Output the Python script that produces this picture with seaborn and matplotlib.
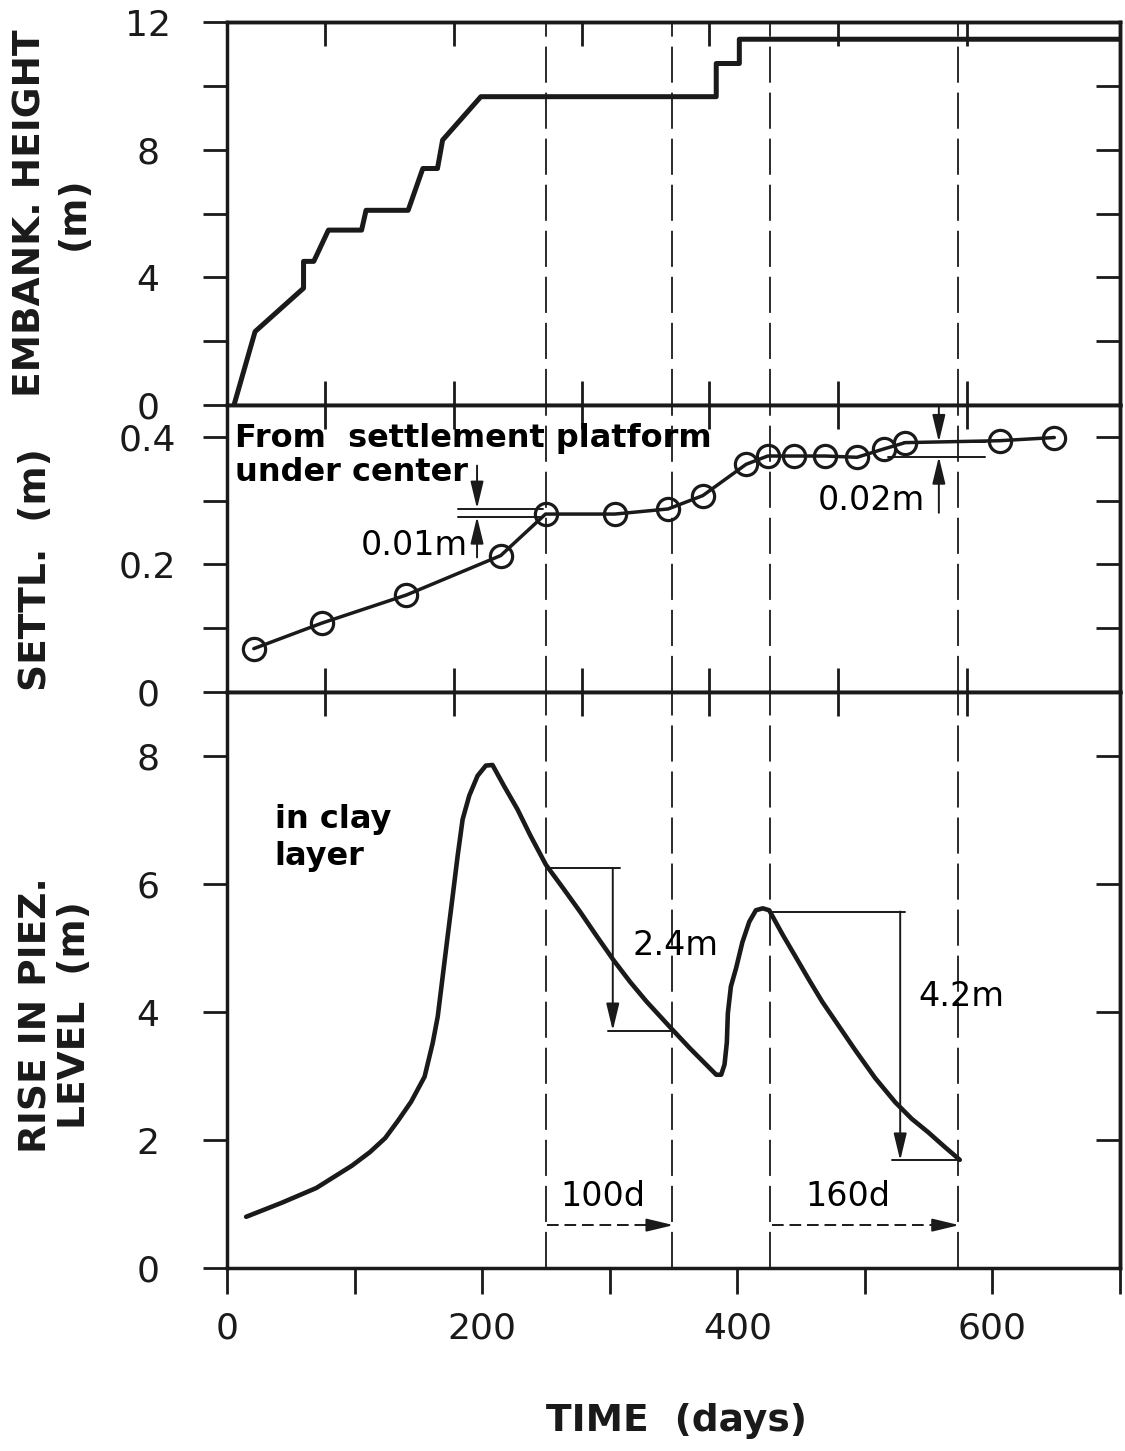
import numpy as np
import pandas as pd
import matplotlib
matplotlib.use("Agg")
import matplotlib.pyplot as plt
import seaborn as sns

# ---------------- data ----------------
emb_days = [5.5, 22, 60, 60, 68, 79.5, 105.5, 109, 142, 153.5, 165, 169, 199,
            383.5, 383.5, 401.6, 401.6, 700]
emb_height = [0, 2.3, 3.66, 4.5, 4.5, 5.48, 5.48, 6.1, 6.1, 7.41, 7.41, 8.3, 9.66,
              9.66, 10.7, 10.7, 11.46, 11.46]

settl_days = [21, 74.3, 140.5, 214.6, 249.7, 304, 345.8, 373, 406.9, 423.8,
              444.5, 469, 493.8, 514.7, 531.6, 605.6, 648.5]
settl_m = [0.068, 0.108, 0.152, 0.214, 0.279, 0.279, 0.287, 0.308, 0.357, 0.370,
           0.370, 0.370, 0.368, 0.381, 0.391, 0.394, 0.399]

piez_days = [15, 43, 70, 98, 112, 124, 134, 144.4, 154.9, 161.3, 165.2, 169.1, 173,
             176.9, 180.8, 184.7, 189.9, 196.4, 202.9, 208.1, 217.2, 227.6, 238, 250,
             264, 277, 290, 303, 316, 329, 347, 363, 376, 383.5, 387.4, 390, 391.8,
             392.6, 395, 399, 404, 409.4, 414.6, 420, 425, 435.5, 445.8, 456, 466.6,
             479.6, 492.6, 508, 523.8, 536.8, 549.7, 562.7, 574.4]
piez_m = [0.80, 1.02, 1.25, 1.60, 1.81, 2.03, 2.30, 2.60, 2.99, 3.52, 3.93, 4.56, 5.19,
          5.81, 6.44, 7.01, 7.38, 7.69, 7.85, 7.86, 7.53, 7.17, 6.75, 6.30,
          5.92, 5.56, 5.18, 4.81, 4.47, 4.16, 3.77, 3.43, 3.17, 3.02, 3.02, 3.18, 3.52,
          3.98, 4.40, 4.68, 5.09, 5.41, 5.59, 5.62, 5.59, 5.21, 4.86, 4.51, 4.16,
          3.78, 3.40, 2.97, 2.59, 2.33, 2.12, 1.89, 1.69]

ref_days = [250, 349, 426, 573]          # dashed reference lines

x_major = [0, 100, 200, 300, 400, 500, 600, 700]
x_major_labels = ["0", "", "200", "", "400", "", "600", ""]
x_inner = [77, 178, 278, 378, 479, 580]

y1_ticks = [0, 2, 4, 6, 8, 10, 12]
y1_labels = ["0", "", "4", "", "8", "", "12"]
y2_ticks = [0, 0.1, 0.2, 0.3, 0.4]
y2_labels = ["0", "", "0.2", "", "0.4"]
y3_ticks = [0, 2, 4, 6, 8]
y3_labels = ["0", "2", "4", "6", "8"]

# ---------------- style ----------------
sns.set_theme(style="ticks")
plt.rcParams["font.family"] = ["DejaVu Sans"]
plt.rcParams["axes.linewidth"] = 2.5
plt.rcParams["axes.edgecolor"] = "black"
plt.rcParams["text.color"] = "black"
plt.rcParams["axes.labelcolor"] = "black"
plt.rcParams["xtick.color"] = "black"
plt.rcParams["ytick.color"] = "black"

W, H = 1125, 1451
fig = plt.figure(figsize=(W / 100, H / 100), dpi=100)
fig.patch.set_facecolor("white")

L_px, R_px = 227, 1120


def rect(top, bot):
    return [L_px / W, 1 - bot / H, (R_px - L_px) / W, (bot - top) / H]


ax1 = fig.add_axes(rect(22, 405))
ax2 = fig.add_axes(rect(405, 692))
ax3 = fig.add_axes(rect(692, 1268))

TL, TW = 17, 2.0
LAB = 26

for ax in (ax1, ax2, ax3):
    ax.set_xlim(0, 700)
    for s in ax.spines.values():
        s.set_visible(True)
        s.set_linewidth(2.5)
        s.set_color("k")
    ax.set_facecolor("white")
    sec = ax.secondary_yaxis("right")
    sec.spines["right"].set_linewidth(2.5)
    sec.spines["right"].set_color("k")
    sec.tick_params(axis="y", direction="in", length=TL, width=TW, labelright=False,
                    color="k")
    sect = ax.secondary_xaxis("top")
    sect.spines["top"].set_linewidth(2.5)
    sect.spines["top"].set_color("k")
    sect.set_xticks(x_inner)
    sect.tick_params(axis="x", direction="in", length=TL, width=TW, labeltop=False,
                     color="k")
    ax._sec = sec

for ax, ticks, labels, lim in ((ax1, y1_ticks, y1_labels, (0, 12)),
                               (ax2, y2_ticks, y2_labels, (0, 0.45)),
                               (ax3, y3_ticks, y3_labels, (0, 9))):
    ax.set_ylim(*lim)
    ax.set_yticks(ticks, labels, ha="center")
    ax.tick_params(axis="y", direction="out", length=TL, width=TW, labelsize=LAB,
                   pad=40, colors="k")
    ax._sec.set_yticks(ticks)

for ax in (ax1, ax2):
    ax.set_xticks(x_inner)
    ax.tick_params(axis="x", direction="in", length=TL, width=TW, labelbottom=False,
                   colors="k")
ax3.set_xticks(x_major, x_major_labels)
ax3.tick_params(axis="x", direction="out", length=TL + 2, width=TW, labelsize=LAB,
                pad=12, colors="k")

for ax in (ax1, ax2, ax3):
    for d in ref_days:
        ax.axvline(d, color="k", lw=1.3, dashes=(20, 5.5), zorder=1)

# ---------------- data lines ----------------
sns.lineplot(x=emb_days, y=emb_height, ax=ax1, color="k", lw=3.6,
             estimator=None, sort=False)
sns.lineplot(x=settl_days, y=settl_m, ax=ax2, color="k", lw=2.5,
             estimator=None, sort=False, marker="o", markersize=16,
             markeredgecolor="k", markeredgewidth=2.3)
for ln in ax2.lines:
    if ln.get_marker() == "o":
        ln.set_markerfacecolor("none")
sns.lineplot(x=piez_days, y=piez_m, ax=ax3, color="k", lw=3.3,
             estimator=None, sort=False)
for ax in (ax1, ax2, ax3):
    ax.set_xlabel("")
    ax.set_ylabel("")


# ---------------- annotations ----------------
def arrow(ax, x0, y0, x1, y1):
    ax.annotate("", xy=(x1, y1), xytext=(x0, y0),
                arrowprops=dict(arrowstyle="-|>,head_length=0.75,head_width=0.18",
                                color="k", lw=1.4, shrinkA=0, shrinkB=0,
                                mutation_scale=22))


thin = dict(color="k", lw=1.4)
ax2.plot([181, 248], [0.2875, 0.2875], **thin)
ax2.plot([181, 248], [0.275, 0.275], **thin)
arrow(ax2, 196, 0.355, 196, 0.2875)
arrow(ax2, 196, 0.211, 196, 0.275)
ax2.text(105, 0.229, "0.01m", fontsize=24, ha="left", va="center")
ax2.plot([531, 594], [0.392, 0.392], **thin)
ax2.plot([518, 594], [0.369, 0.369], **thin)
arrow(ax2, 558, 0.447, 558, 0.392)
arrow(ax2, 558, 0.281, 558, 0.369)
ax2.text(463, 0.300, "0.02m", fontsize=24, ha="left", va="center")
ax2.text(6, 0.398, "From  settlement platform", fontsize=23, fontweight="bold",
         ha="left", va="center")
ax2.text(6, 0.344, "under center", fontsize=23, fontweight="bold",
         ha="left", va="center")

ax3.plot([251, 308], [6.25, 6.25], **thin)
ax3.plot([299, 350], [3.71, 3.71], **thin)
arrow(ax3, 302.4, 6.25, 302.4, 3.71)
ax3.text(318, 5.04, "2.4m", fontsize=24, ha="left", va="center")
ax3.plot([426, 531.6], [5.57, 5.57], **thin)
ax3.plot([521, 574], [1.68, 1.68], **thin)
arrow(ax3, 527.7, 5.57, 527.7, 1.68)
ax3.text(541.7, 4.24, "4.2m", fontsize=24, ha="left", va="center")
for a, b, lab, tx in ((251, 350, "100d", 261), (427, 574, "160d", 453.6)):
    ax3.plot([a, b - 12], [0.67, 0.67], color="k", lw=1.4, dashes=(6, 3))
    arrow(ax3, b - 14, 0.67, b, 0.67)
    ax3.text(tx, 1.12, lab, fontsize=24, ha="left", va="center")
ax3.text(37.4, 7.01, "in clay", fontsize=23, fontweight="bold", ha="left", va="center")
ax3.text(37.4, 6.43, "layer", fontsize=23, fontweight="bold", ha="left", va="center")


def ftext(px, py, s, rot=90, ls=1.2):
    fig.text(px / W, 1 - py / H, s, rotation=rot, ha="center", va="center",
             multialignment="center", fontsize=27, fontweight="bold", linespacing=ls,
             color="k")


ftext(52, 213, "EMBANK. HEIGHT\n(m)", ls=1.25)
ftext(36, 570, "SETTL.  (m)")
ftext(56, 1015, "RISE IN PIEZ.\nLEVEL  (m)", ls=1.1)
ftext(677, 1421, "TIME  (days)", rot=0)

fig.savefig("out.png", dpi=100, facecolor="white")
